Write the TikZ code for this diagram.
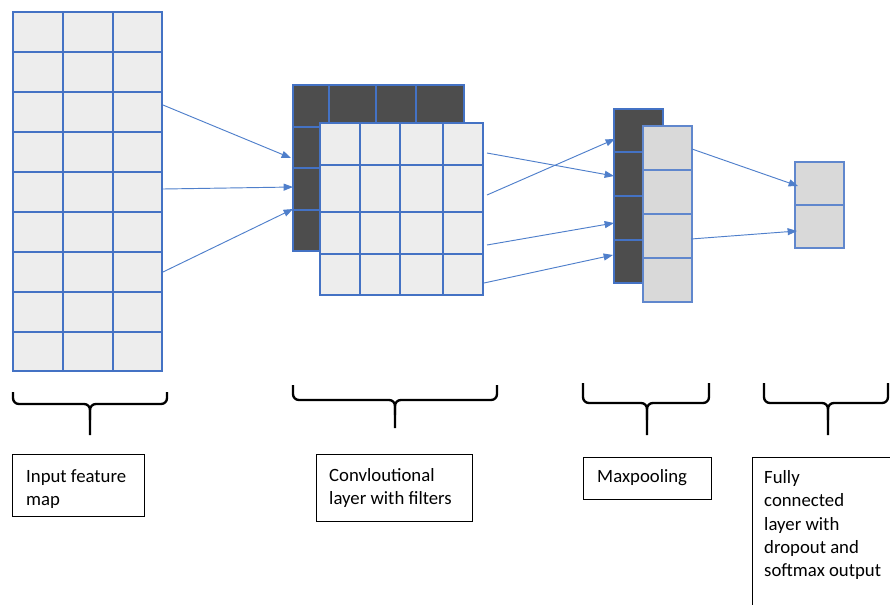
\documentclass[tikz,border=0pt]{standalone}
\usepackage{fontspec}
\setmainfont{Carlito}
\usetikzlibrary{arrows.meta}
\definecolor{gridblue}{HTML}{4472C4}
\definecolor{arrowblue}{HTML}{4F7FCB}
\definecolor{cellgray}{HTML}{EDEDED}
\definecolor{poolgray}{HTML}{D9D9D9}
\definecolor{darkcell}{HTML}{4D4D4D}

\begin{document}
\begin{tikzpicture}[x=0.03cm,y=-0.03cm,
  grid/.style={draw=gridblue, line width=1.6pt},
  poolgrid/.style={draw=gridblue!85, line width=1.1pt},
  link/.style={draw=arrowblue, line width=0.8pt, -{Triangle[length=8pt,width=6pt]}},
  frame/.style={draw=black, line width=0.7pt, inner sep=0pt, anchor=north west},
  lbl/.style={inner sep=0pt, anchor=north west, align=left, font=\fontsize{16}{20}\selectfont},
  brace/.style={draw=black, line width=2pt, rounded corners=5pt}]
\useasboundingbox (0,0) rectangle (890,604);
\clip (0,0) rectangle (890,604);

% input feature map
\filldraw[grid, fill=cellgray] (13,12) rectangle (162,371);
\foreach \x in {63,113} \draw[grid] (\x,12) -- (\x,371);
\foreach \y in {52,92,...,332} \draw[grid] (13,\y) -- (162,\y);

% filters behind
\filldraw[grid, fill=darkcell] (293,85) rectangle (464,251);
\foreach \x in {329,376,416} \draw[grid] (\x,85) -- (\x,127);
\foreach \y in {127,168,210} \draw[grid] (293,\y) -- (320,\y);

% convolutional layer
\filldraw[grid, fill=cellgray] (320,123) rectangle (483,295);
\foreach \x in {360,400,443} \draw[grid] (\x,123) -- (\x,295);
\foreach \y in {165,212,254} \draw[grid] (320,\y) -- (483,\y);

% maxpooling
\filldraw[grid, fill=darkcell] (614,109) rectangle (663,283);
\foreach \y in {152,196,240} \draw[grid] (614,\y) -- (643,\y);
\filldraw[poolgrid, fill=poolgray] (643,126) rectangle (692,302);
\foreach \y in {170,214,258} \draw[poolgrid] (643,\y) -- (692,\y);

% fully connected
\filldraw[poolgrid, fill=poolgray] (795,162) rectangle (844,248);
\draw[poolgrid] (795,205) -- (844,205);

% arrow ends
\coordinate (in1) at (163,105);
\coordinate (in2) at (163,189);
\coordinate (in3) at (163,272);
\coordinate (cv1) at (291,158);
\coordinate (cv2) at (293,187);
\coordinate (cv3) at (293,209);
\coordinate (co1) at (487,153);
\coordinate (co2) at (487,195);
\coordinate (co3) at (487,245);
\coordinate (co4) at (484,283);
\coordinate (mp1) at (614,176);
\coordinate (mp2) at (615,139);
\coordinate (mp3) at (614,223);
\coordinate (mp4) at (613,255);
\coordinate (mo1) at (692,149);
\coordinate (mo2) at (691,239);
\coordinate (fc1) at (798,186);
\coordinate (fc2) at (797,231);

\draw[link] (in1) -- (cv1);
\draw[link] (in2) -- (cv2);
\draw[link] (in3) -- (cv3);
\draw[link] (co1) -- (mp1);
\draw[link] (co2) -- (mp2);
\draw[link] (co3) -- (mp3);
\draw[link] (co4) -- (mp4);
\draw[link] (mo1) -- (fc1);
\draw[link] (mo2) -- (fc2);

% braces
\draw[brace] (13,392) -- (13,404) -- (90,404) -- (90,435);
\draw[brace] (167,392) -- (167,404) -- (90,404) -- (90,420);
\draw[brace] (293,385) -- (293,400) -- (395,400) -- (395,428);
\draw[brace] (497,385) -- (497,400) -- (395,400) -- (395,415);
\draw[brace] (583,383) -- (583,403) -- (647,403) -- (647,435);
\draw[brace] (709,383) -- (709,403) -- (647,403) -- (647,420);
\draw[brace] (764,383) -- (764,403) -- (828,403) -- (828,435);
\draw[brace] (888,383) -- (888,403) -- (828,403) -- (828,420);

% label boxes
\node[frame, minimum width=3.96cm, minimum height=1.86cm] (inbox) at (12,454) {};
\node[frame, minimum width=4.68cm, minimum height=2.01cm] (convbox) at (316,454) {};
\node[frame, minimum width=3.84cm, minimum height=1.26cm] (poolbox) at (583,457) {};
\node[frame, minimum width=4.29cm, minimum height=4.59cm] (fcbox) at (752,457) {};

\node[lbl] (intext) at (26,469) {Input feature\\map};
\node[lbl] (convtext) at (329,468) {Convloutional\\layer with filters};
\node[lbl] (pooltext) at (597,469) {Maxpooling};
\node[lbl] (fctext) at (764,470) {Fully\\connected\\layer with\\dropout and\\softmax output};
\end{tikzpicture}
\end{document}
